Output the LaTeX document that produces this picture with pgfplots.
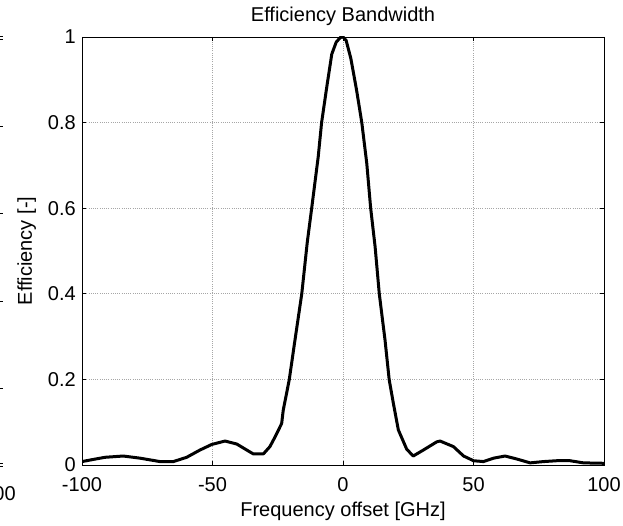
\documentclass[border=0pt]{standalone}
\usepackage{fontspec}
\setmainfont{Liberation Sans}
\usepackage{pgfplots}
\pgfplotsset{compat=1.18}
\pgfplotstableread{
x y
-100 0.008
-95.7 0.013
-91.2 0.018
-84.2 0.021
-77.8 0.016
-70.1 0.008
-65.0 0.008
-59.9 0.018
-54.8 0.035
-50.3 0.048
-45.2 0.056
-40.7 0.049
-34.4 0.026
-30.5 0.026
-28.0 0.043
-26.0 0.066
-23.5 0.097
-22.9 0.128
-20.6 0.199
-18.4 0.292
-15.8 0.400
-13.7 0.520
-12.0 0.600
-9.5 0.720
-8.2 0.800
-6.2 0.884
-4.3 0.960
-2.6 0.988
-1.0 0.999
0.0 1.000
1.2 0.992
3.0 0.950
5.2 0.876
7.2 0.800
9.1 0.705
10.6 0.600
12.3 0.510
13.9 0.400
16.1 0.292
17.7 0.199
19.3 0.144
21.2 0.082
24.4 0.037
26.9 0.021
30.8 0.035
35.9 0.054
37.2 0.056
42.3 0.043
46.2 0.021
50.0 0.010
53.8 0.008
57.7 0.016
62.1 0.021
66.6 0.014
71.7 0.005
76.8 0.008
81.9 0.010
87.0 0.010
92.1 0.005
100 0.004
}\effdata
\begin{document}
\begin{tikzpicture}
\useasboundingbox (-61.5pt,-45pt) rectangle (405.75pt,348.75pt);
% remnants of a neighbouring panel at the left edge
\foreach \py in {39,126,213,301,388,463} {
  \draw[line width=0.6pt] (-61.5pt,{(465-\py)*0.75pt}) -- ++(2.5pt,0);
}
\draw[line width=0.6pt] (-61.5pt,{(465-36)*0.75pt}) -- ++(2.5pt,0);
\draw[line width=0.6pt] (-61.5pt,{(465-466)*0.75pt}) -- ++(2.5pt,0);
\node[anchor=base east, inner sep=0pt, font=\fontsize{15}{18}\selectfont] at (-49.5pt,-26.25pt) {100};
\begin{axis}[
  at={(0,0)}, anchor=south west,
  scale only axis, width=391.5pt, height=321pt,
  xmin=-100, xmax=100, ymin=0, ymax=1,
  xtick={-100,-50,0,50,100}, xticklabels={-100,-50,0,50,100},
  ytick={0,0.2,0.4,0.6,0.8,1}, yticklabels={0,0.2,0.4,0.6,0.8,1},
  tick align=inside, major tick length=3pt,
  tick style={black, line width=0.6pt},
  axis line style={black, line width=0.6pt},
  grid=major,
  major grid style={gray!70, line width=0.5pt, dash pattern=on 0.75pt off 0.9pt},
  tick label style={font=\fontsize{15}{18}\selectfont, inner sep=0pt},
  xticklabel style={yshift=-9pt},
  yticklabel style={xshift=-4.5pt},
  title={Efficiency Bandwidth},
  title style={font=\fontsize{15}{18}\selectfont, at={(axis description cs:0.5,1)}, anchor=base, inner sep=0pt, yshift=5.6pt},
  xlabel={Frequency offset [GHz]},
  xlabel style={font=\fontsize{15}{18}\selectfont, at={(axis description cs:0.5,0)}, anchor=north, inner sep=0pt, yshift=-27.75pt},
  ylabel={Efficiency [-]},
  ylabel style={font=\fontsize{15}{18}\selectfont, at={(axis description cs:0,0.5)}, anchor=base, inner sep=0pt, yshift=37.5pt},
]
\addplot[black, line width=2.25pt, line join=round] table[x=x,y=y] {\effdata};
\end{axis}
\end{tikzpicture}
\end{document}
